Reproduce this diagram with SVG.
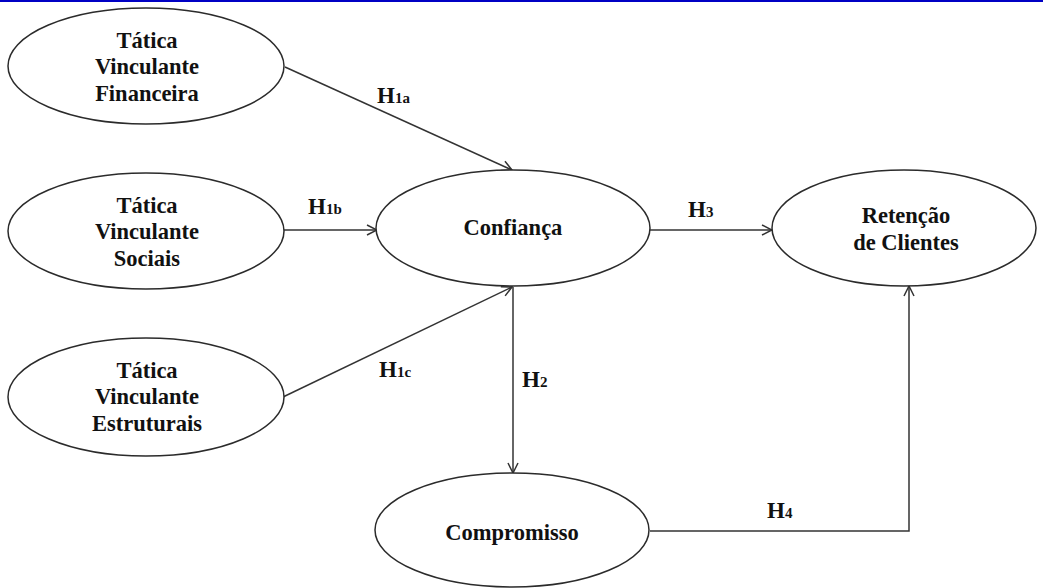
<svg xmlns="http://www.w3.org/2000/svg" width="1043" height="588" viewBox="0 0 1043 588">
<style>
.node ellipse{fill:#fff;stroke:#2b2b2b;stroke-width:1.5}
.t{font-family:"Liberation Serif","Times New Roman",serif;font-weight:bold;font-size:22.5px;fill:#111;text-anchor:middle}
.conn line,.conn polyline{stroke:#333;stroke-width:1.5;fill:none;marker-end:url(#arr)}
.lbl{font-family:"Liberation Serif","Times New Roman",serif;font-weight:bold;font-size:23px;fill:#111}
.sub{font-size:15px}
</style>
<defs>
<marker id="arr" markerUnits="userSpaceOnUse" viewBox="0 0 12 12" refX="11" refY="6" markerWidth="12" markerHeight="12" orient="auto">
<path d="M1,1 L11,6 L1,11" fill="none" stroke="#333" stroke-width="1.5"/>
</marker>
</defs>
<rect x="0" y="0" width="1043" height="588" fill="#fff"/>
<rect x="0" y="0" width="1043" height="2" fill="#0000c4"/>
<g class="conn" id="connectors">
<line x1="285" y1="67" x2="512" y2="170"/>
<line x1="284" y1="230" x2="377" y2="230"/>
<line x1="283" y1="397" x2="512" y2="287"/>
<line x1="513" y1="287" x2="513" y2="473"/>
<line x1="650" y1="230" x2="772" y2="230"/>
<polyline points="650,531 909,531 909,286"/>
</g>
<g id="labels">
<text class="lbl" x="377" y="103">H<tspan class="sub">1a</tspan></text>
<text class="lbl" x="308" y="214">H<tspan class="sub">1b</tspan></text>
<text class="lbl" x="379" y="377">H<tspan class="sub">1c</tspan></text>
<text class="lbl" x="522" y="387">H<tspan class="sub">2</tspan></text>
<text class="lbl" x="688" y="217">H<tspan class="sub">3</tspan></text>
<text class="lbl" x="767" y="518">H<tspan class="sub">4</tspan></text>
</g>
<g class="node" id="financeira">
<ellipse cx="146" cy="66" rx="138" ry="58"/>
<text class="t" x="147" y="48">Tática</text>
<text class="t" x="147" y="74">Vinculante</text>
<text class="t" x="147" y="101">Financeira</text>
</g>
<g class="node" id="sociais">
<ellipse cx="146" cy="231" rx="138" ry="58"/>
<text class="t" x="147" y="213">Tática</text>
<text class="t" x="147" y="239">Vinculante</text>
<text class="t" x="147" y="266">Sociais</text>
</g>
<g class="node" id="estruturais">
<ellipse cx="146" cy="397" rx="138" ry="59"/>
<text class="t" x="147" y="378">Tática</text>
<text class="t" x="147" y="404">Vinculante</text>
<text class="t" x="147" y="431">Estruturais</text>
</g>
<g class="node" id="confianca">
<ellipse cx="513" cy="228" rx="137" ry="58"/>
<text class="t" x="513" y="235">Confiança</text>
</g>
<g class="node" id="retencao">
<ellipse cx="904" cy="228" rx="132" ry="58"/>
<text class="t" x="906" y="223">Retenção</text>
<text class="t" x="906" y="250">de Clientes</text>
</g>
<g class="node" id="compromisso">
<ellipse cx="512" cy="530" rx="137" ry="57"/>
<text class="t" x="512" y="540">Compromisso</text>
</g>
</svg>
